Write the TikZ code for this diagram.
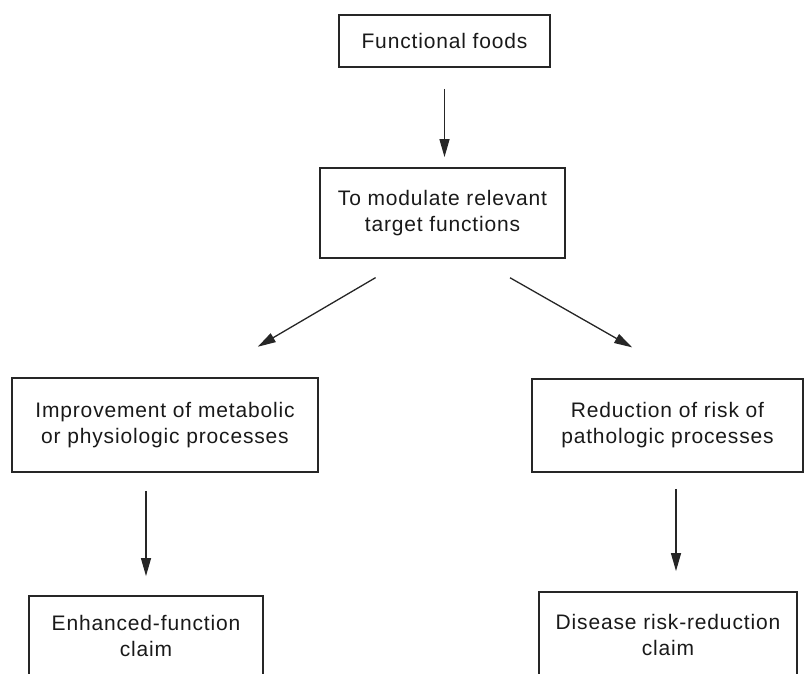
\documentclass[tikz,border=0pt]{standalone}
\usepackage{fontspec}
\setmainfont[LetterSpace=4]{Liberation Sans}
\usepackage{tikz}
\usetikzlibrary{arrows.meta}

\begin{document}
\begin{tikzpicture}[x=1pt,y=-1pt,
    box/.style={draw=black!85,line width=1.8pt,inner sep=0pt,align=center,
      text=black!90,font=\fontsize{21}{26}\selectfont},
    arr/.style={draw=black!85,line width=1.3pt,-{Triangle[length=18pt,width=10pt]}}]
	\useasboundingbox (0,0) rectangle (806,673);
	\clip (0,0) rectangle (806,673);
	% boxes
	\node[box,minimum width=211pt,minimum height=52pt] (foods) at (444.5,41) {Functional foods};
	\node[box,minimum width=245pt,minimum height=90pt] (modulate) at (442.5,213) {To modulate relevant\\target functions};
	\node[box,minimum width=306pt,minimum height=94pt] (improve) at (165,425) {Improvement of metabolic\\or physiologic processes};
	\node[box,minimum width=271pt,minimum height=93pt] (reduce) at (667.5,425.5) {Reduction of risk of\\pathologic processes};
	\node[box,minimum width=234pt,minimum height=80pt] (enhanced) at (146,636) {Enhanced-function\\claim};
	\node[box,minimum width=258pt,minimum height=86pt] (disease) at (668,635) {Disease risk-reduction\\claim};
	% arrows
	\draw[arr,shorten <=21pt,shorten >=10pt] (foods.south) -- (foods.south |- modulate.north);
	\draw[arr,shorten <=37pt,shorten >=60pt] ([xshift=-35pt]modulate.south) -- ([xshift=41pt]improve.north);
	\draw[arr,shorten <=38pt,shorten >=62pt] ([xshift=34.5pt]modulate.south) -- ([xshift=18.5pt]reduce.north);
	\draw[arr,shorten <=18pt,shorten >=19pt] (improve.south -| enhanced.north) -- (enhanced.north);
	\coordinate (dtop) at ([xshift=8pt]disease.north);
	\draw[arr,shorten <=16pt,shorten >=20pt] (dtop |- reduce.south) -- (dtop);
\end{tikzpicture}
\end{document}
